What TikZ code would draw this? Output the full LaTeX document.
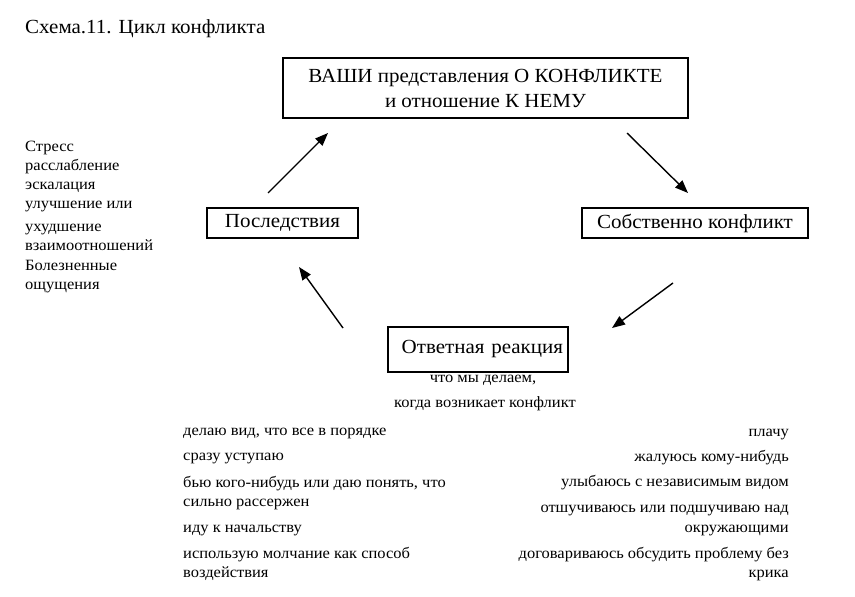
\documentclass[tikz,border=0pt]{standalone}
\usepackage{fontspec}
\setmainfont[FakeStretch=1.05]{Liberation Serif}
\usetikzlibrary{arrows.meta,calc}
\tikzset{
  box/.style={draw, line width=1.6pt, inner sep=0pt, font=\fontsize{20}{24}\selectfont},
  big/.style={inner sep=0pt, font=\fontsize{20}{24}\selectfont},
  item/.style={inner sep=0pt, font=\fontsize{15.7}{19}\selectfont},
  arr/.style={line width=1.4pt, -{Triangle[length=13pt,width=10pt]}}
}
\begin{document}
\begin{tikzpicture}[x=1pt,y=-1pt]
\useasboundingbox[fill=white] (0,0) rectangle (855,597);
% title
\node[big, anchor=base west] (title) at (25,33) {Схема.11. Цикл конфликта};
% boxes
\node[box, minimum width=405pt, minimum height=60pt, align=center] (top) at (485.5,88) {ВАШИ представления О КОНФЛИКТЕ\\[1pt]и отношение К НЕМУ};
\node[box, minimum width=151pt, minimum height=30pt] (post) at (282.5,223) {Последствия};
\node[box, minimum width=226pt, minimum height=30pt] (conf) at (695,223) {Собственно конфликт};
\node[box, minimum width=180pt, minimum height=45pt, text width=170pt, align=right] (resp) at (478,349.5) {Ответная реакция};
% arrows (free ends as coordinates near the boxes)
\coordinate (a1s) at (268,193); \coordinate (a1e) at (328,133);
\coordinate (a2s) at (627,133); \coordinate (a2e) at (688,193);
\coordinate (a3s) at (673,283); \coordinate (a3e) at (612,328);
\coordinate (a4s) at (343,328); \coordinate (a4e) at (299,267);
\draw[arr] (a1s) -- (a1e);
\draw[arr] (a2s) -- (a2e);
\draw[arr] (a3s) -- (a3e);
\draw[arr] (a4s) -- (a4e);
% under response
\node[item, anchor=base] (r1) at (483,382) {что мы делаем,};
\node[item, anchor=base] (r2) at (485,407) {когда возникает конфликт};
% left block
\node[item, anchor=base west] (c1) at (25,151) {Стресс};
\node[item, anchor=base west] (c2) at (25,170) {расслабление};
\node[item, anchor=base west] (c3) at (25,189) {эскалация};
\node[item, anchor=base west] (c4) at (25,208) {улучшение или};
\node[item, anchor=base west] (c5) at (25,231) {ухудшение};
\node[item, anchor=base west] (c6) at (25,250) {взаимоотношений};
\node[item, anchor=base west] (c7) at (25,270) {Болезненные};
\node[item, anchor=base west] (c8) at (25,289) {ощущения};
% left list
\node[item, anchor=base west] (l1) at (183,435) {делаю вид, что все в порядке};
\node[item, anchor=base west] (l2) at (183,460) {сразу уступаю};
\node[item, anchor=base west] (l3) at (183,487) {бью кого-нибудь или даю понять, что};
\node[item, anchor=base west] (l3b) at (183,506) {сильно рассержен};
\node[item, anchor=base west] (l4) at (183,532) {иду к начальству};
\node[item, anchor=base west] (l5) at (183,558) {использую молчание как способ};
\node[item, anchor=base west] (l5b) at (183,577) {воздействия};
% right list
\node[item, anchor=base east] (p1) at (789,436) {плачу};
\node[item, anchor=base east] (p2) at (789,461) {жалуюсь кому-нибудь};
\node[item, anchor=base east] (p3) at (789,486) {улыбаюсь с независимым видом};
\node[item, anchor=base east] (p4) at (789,512) {отшучиваюсь или подшучиваю над};
\node[item, anchor=base east] (p4b) at (789,532) {окружающими};
\node[item, anchor=base east] (p5) at (789,558) {договариваюсь обсудить проблему без};
\node[item, anchor=base east] (p5b) at (789,577) {крика};
\end{tikzpicture}
\end{document}
